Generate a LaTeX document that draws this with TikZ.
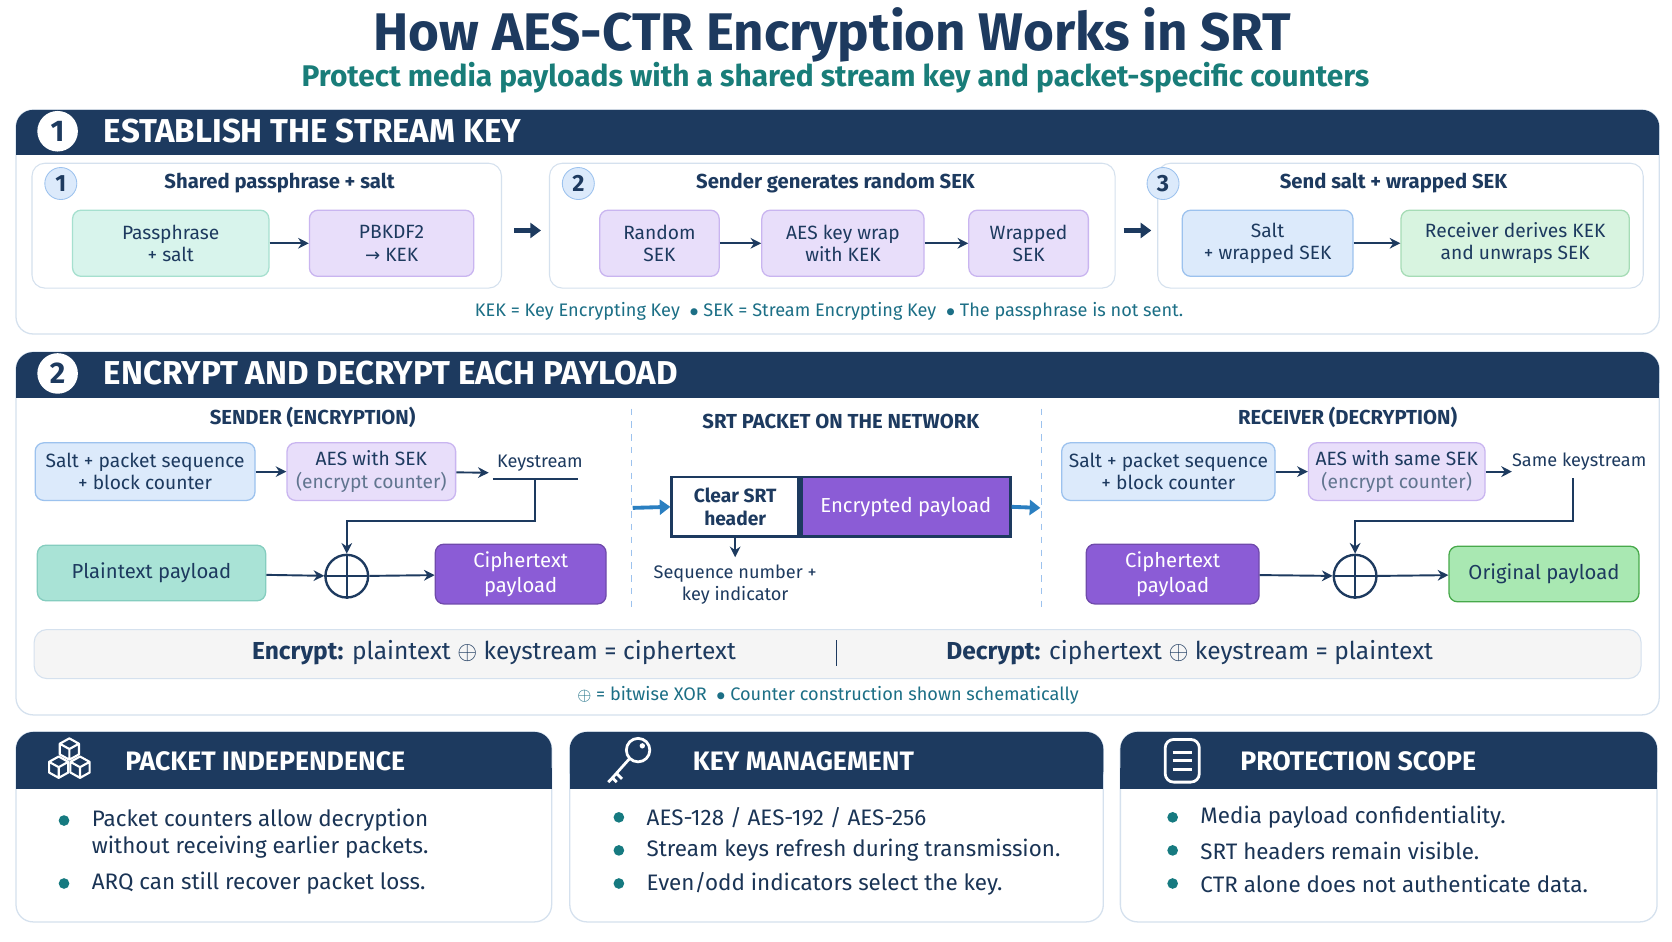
\documentclass[tikz,border=0pt]{standalone}
\usepackage{fontspec}
\setmainfont{Fira Sans}
\newfontfamily\sym{DejaVu Sans}
\usetikzlibrary{arrows.meta}
\definecolor{navy}{HTML}{1D3A5F}
\definecolor{tealtx}{HTML}{1C6F86}
\definecolor{lteal}{HTML}{D8F4EC}\definecolor{bteal}{HTML}{A6E0CF}
\definecolor{lpur}{HTML}{E8DEFA}\definecolor{bpur}{HTML}{C9B5F0}
\definecolor{lblue}{HTML}{DCEAFB}\definecolor{bblue}{HTML}{9CC2EE}
\definecolor{lgreen}{HTML}{D8F4E0}\definecolor{bgreen}{HTML}{A6DCB6}
\definecolor{spur}{HTML}{8B5CD6}\definecolor{steal}{HTML}{A9E3D6}
\definecolor{sgreen}{HTML}{A9E8B2}\definecolor{netblue}{HTML}{2A7FC1}
\definecolor{panelb}{HTML}{D5E1EE}\definecolor{dot}{HTML}{167A80}
\begin{document}
\begin{tikzpicture}[x=0.5pt,y=-0.5pt,
  panel/.style={draw=panelb,line width=0.6pt,fill=white,rounded corners=8pt},
  hdr/.style={fill=navy,rounded corners=8pt},
  htxt/.style={text=white,font=\bfseries\fontsize{15.5}{18}\selectfont,anchor=west,inner sep=0pt},
  bn/.style={draw,line width=0.6pt,rounded corners=4pt,align=center,text=navy,font=\fontsize{9}{10.5}\selectfont},
  sub/.style={draw=panelb,line width=0.5pt,rounded corners=6pt,fill=white},
  badge/.style={circle,fill=lblue,draw=bblue,line width=0.4pt,minimum size=15pt,inner sep=0pt,text=navy,font=\bfseries\fontsize{11}{12}\selectfont},
  wbadge/.style={circle,fill=white,minimum size=19pt,inner sep=0pt,text=navy,font=\bfseries\fontsize{14}{14}\selectfont},
  stitle/.style={text=navy,font=\bfseries\fontsize{9.5}{12}\selectfont},
  arr/.style={-{Stealth[length=5pt,width=5pt]},line width=0.9pt,draw=navy},
  barr/.style={-{Triangle[length=5pt,width=7pt]},line width=2.2pt,draw=navy},
  xor/.style={circle,draw=navy,line width=1.1pt,minimum size=20pt,inner sep=0pt},
  btxt/.style={anchor=west,text=navy!90!black,font=\fontsize{10.5}{12.5}\selectfont,align=left},
  ctxt/.style={text=navy,font=\fontsize{8.5}{10.5}\selectfont,align=center}]
\fill[white] (0,0) rectangle (1567,882);
\useasboundingbox (0,0) rectangle (1567,882);
% title
\node (title) at (780,33) {\textcolor{navy}{\bfseries\fontsize{24.8}{30}\selectfont How AES-CTR Encryption Works in SRT}};
\node (subt) at (783,73) {\textcolor{tealtx!90!green}{\bfseries\fontsize{14}{16}\selectfont Protect media payloads with a shared stream key and packet-specific counters}};
% ===== section 1
\draw[panel] (15,103) rectangle (1555,313);
\fill[hdr] (15,103) rectangle (1555,145);
\fill[navy] (15,130) rectangle (1555,145);
\node[wbadge] (c1) at (54,123) {1};
\node[htxt] (h1) at (97,123) {ESTABLISH THE STREAM KEY};
\draw[sub] (30,153) rectangle (470,270);
\draw[sub] (515,153) rectangle (1045,270);
\draw[sub] (1085,153) rectangle (1540,270);
\node[badge] (b1) at (57,172) {1};
\node[badge] (b2) at (542,172) {2};
\node[badge] (b3) at (1090,172) {3};
\node[stitle] (t1) at (262,172) {Shared passphrase + salt};
\node[stitle] (t2) at (783,172) {Sender generates random SEK};
\node[stitle] (t3) at (1306,172) {Send salt + wrapped SEK};
\node[bn,draw=bteal,fill=lteal,minimum width=92pt,minimum height=31pt] (pp) at (160,228) {Passphrase\\+ salt};
\node[bn,draw=bpur,fill=lpur,minimum width=77pt,minimum height=31pt] (kdf) at (367,228) {PBKDF2\\{\sym\fontsize{8.5}{10.5}\selectfont→} KEK};
\node[bn,draw=bpur,fill=lpur,minimum width=56pt,minimum height=31pt] (rs) at (618,228) {Random\\SEK};
\node[bn,draw=bpur,fill=lpur,minimum width=76pt,minimum height=31pt] (wr) at (790,228) {AES key wrap\\with KEK};
\node[bn,draw=bpur,fill=lpur,minimum width=56pt,minimum height=31pt] (ws) at (964,228) {Wrapped\\SEK};
\node[bn,draw=bblue,fill=lblue,minimum width=80pt,minimum height=31pt] (sw) at (1188,228) {Salt\\+ wrapped SEK};
\node[bn,draw=bgreen,fill=lgreen,minimum width=107pt,minimum height=31pt] (rd) at (1420,228) {Receiver derives KEK\\and unwraps SEK};
\draw[arr] (pp) -- (kdf);
\draw[arr] (rs) -- (wr);
\draw[arr] (wr) -- (ws);
\draw[arr] (sw) -- (rd);
\coordinate (a1s) at (482,216); \coordinate (a1e) at (507,216);
\coordinate (a2s) at (1053,216); \coordinate (a2e) at (1079,216);
\draw[barr] (a1s) -- (a1e);
\draw[barr] (a2s) -- (a2e);
\node[text=tealtx,font=\fontsize{8.5}{10}\selectfont] (fn1) at (777,292) {KEK = Key Encrypting Key \ $\bullet$\ SEK = Stream Encrypting Key \ $\bullet$\ The passphrase is not sent.};
% ===== section 2
\draw[panel] (15,330) rectangle (1555,670);
\fill[hdr] (15,330) rectangle (1555,373);
\fill[navy] (15,357) rectangle (1555,373);
\node[wbadge] (c2) at (54,350) {2};
\node[htxt] (h2) at (97,350) {ENCRYPT AND DECRYPT EACH PAYLOAD};
\node[stitle] (st1) at (293,391) {SENDER (ENCRYPTION)};
\node[stitle] (st2) at (788,395) {SRT PACKET ON THE NETWORK};
\node[stitle] (st3) at (1263,391) {RECEIVER (DECRYPTION)};
\draw[bblue,dashed,line width=0.6pt] (592,383) -- (592,570);
\draw[bblue,dashed,line width=0.6pt] (976,383) -- (976,570);
% sender
\node[bn,draw=bblue,fill=lblue,minimum width=103pt,minimum height=27pt] (sc) at (136,442) {Salt + packet sequence\\+ block counter};
\node[bn,draw=bpur,fill=lpur,minimum width=79pt,minimum height=27pt] (aes) at (348,442) {AES with SEK\\{\color{navy!70}(encrypt counter)}};
\node[text=navy,font=\fontsize{8.5}{11}\selectfont] (ks) at (506,434) {Keystream};
\coordinate (kse) at (458,443);
\draw[arr] (sc) -- (aes);
\draw[arr] (aes) -- (kse);
\draw[navy,line width=0.7pt] (462,449) -- (542,449);
\node[xor] (x1) at (325,540) {};
\draw[navy,line width=1.1pt] (x1.north) -- (x1.south) (x1.west) -- (x1.east);
\coordinate (ksd) at (501,449);
\draw[arr] (ksd) |- (325,488) -- (x1.north);
\node[bn,draw=bteal!80!teal,fill=steal,minimum width=107pt,minimum height=26pt,font=\fontsize{9.5}{11.5}\selectfont] (pt) at (142,537) {Plaintext payload};
\node[bn,draw=spur!80!black,fill=spur,text=white,minimum width=80pt,minimum height=28pt,font=\fontsize{9.5}{11.5}\selectfont] (ct) at (488,538) {Ciphertext\\payload};
\draw[arr] (pt) -- (x1);
\draw[arr] (x1) -- (ct);
% network
\node[draw=navy,line width=1.2pt,fill=white,minimum width=59.5pt,minimum height=28pt,inner sep=0pt,align=center,text=navy,font=\bfseries\fontsize{9}{10.5}\selectfont] (hd) at (689,475) {Clear SRT\\header};
\node[draw=navy,line width=1.2pt,fill=spur,minimum width=98pt,minimum height=28pt,inner sep=0pt,text=white,font=\fontsize{9.5}{11.5}\selectfont,anchor=west] (ep) at (hd.east) {Encrypted payload};
\coordinate (nin) at (593,476); \coordinate (nout) at (975,476);
\draw[-{Triangle[length=5pt,width=7pt]},line width=1.8pt,netblue] (nin) -- (hd.west);
\draw[-{Triangle[length=5pt,width=7pt]},line width=1.8pt,netblue] (ep.east) -- (nout);
\node[ctxt] (sn) at (689,548) {Sequence number +\\key indicator};
\draw[arr,line width=0.7pt] (hd.south) -- (sn.north);
% receiver
\node[bn,draw=bblue,fill=lblue,minimum width=98pt,minimum height=27pt] (rsc) at (1095,442) {Salt + packet sequence\\+ block counter};
\node[bn,draw=bpur,fill=lpur,minimum width=79pt,minimum height=27pt] (raes) at (1309,442) {AES with same SEK\\{\color{navy!70}(encrypt counter)}};
\node[text=navy,font=\fontsize{8.5}{11}\selectfont] (sks) at (1480,433) {Same keystream};
\coordinate (rke) at (1417,442);
\draw[arr] (rsc) -- (raes);
\draw[arr] (raes) -- (rke);
\node[xor] (x2) at (1270,540) {};
\draw[navy,line width=1.1pt] (x2.north) -- (x2.south) (x2.west) -- (x2.east);
\coordinate (rkd) at (1474,448);
\draw[arr] (rkd) |- (1270,488) -- (x2.north);
\node[bn,draw=spur!80!black,fill=spur,text=white,minimum width=81pt,minimum height=28pt,font=\fontsize{9.5}{11.5}\selectfont] (rct) at (1099,538) {Ciphertext\\payload};
\node[bn,draw=sgreen!60!green!70!black,fill=sgreen,minimum width=89pt,minimum height=26pt,font=\fontsize{9.5}{11.5}\selectfont] (op) at (1447,538) {Original payload};
\draw[arr] (rct) -- (x2);
\draw[arr] (x2) -- (op);
% formula bar
\draw[draw=panelb,fill=gray!8,rounded corners=6pt,line width=0.5pt] (32,590) rectangle (1538,636);
\node[text=navy,font=\fontsize{11.5}{13}\selectfont] (enc) at (463,612) {\textbf{Encrypt:} plaintext $\oplus$ keystream = ciphertext};
\node[text=navy,font=\fontsize{11.5}{13}\selectfont] (dec) at (1115,612) {\textbf{Decrypt:} ciphertext $\oplus$ keystream = plaintext};
\draw[navy,line width=0.6pt] (784,600) -- (784,624);
\node[text=tealtx,font=\fontsize{8.5}{10}\selectfont] (fn2) at (776,652) {$\oplus$ = bitwise XOR \ $\bullet$\ Counter construction shown schematically};
% ===== bottom cards
\foreach \xa/\xb in {15/517,534/1034,1050/1553}{
  \draw[panel] (\xa,686) rectangle (\xb,864);
  \fill[hdr] (\xa,686) rectangle (\xb,739);
  \fill[navy] (\xa,720) rectangle (\xb,739);
}
\node[htxt,font=\bfseries\fontsize{12.5}{14}\selectfont] (p1) at (117,713) {PACKET INDEPENDENCE};
\node[htxt,font=\bfseries\fontsize{12.5}{14}\selectfont] (p2) at (649,713) {KEY MANAGEMENT};
\node[htxt,font=\bfseries\fontsize{12.5}{14}\selectfont] (p3) at (1162,713) {PROTECTION SCOPE};
% cubes icon
\begin{scope}[shift={(65,713)},white,line width=1pt,line join=round]
 \foreach \dx/\dy in {0/-11,-10/6,10/6}{
  \draw[shift={(\dx,\dy)}] (0,-10) -- (9,-5) -- (9,5) -- (0,10) -- (-9,5) -- (-9,-5) -- cycle (-9,-5) -- (0,0) -- (9,-5) (0,0) -- (0,10);}
\end{scope}
% key icon
\begin{scope}[shift={(590,713)},white,line width=1.3pt]
 \draw (8,-10) circle (11);
 \fill (12,-14) circle (2.5);
 \draw (0,-2) -- (-17,17) -- (-20,20) (-12,12) -- (-7,17) (-16,16)--(-12,20);
\end{scope}
% document icon
\begin{scope}[shift={(1108,713)},white,line width=1.3pt]
 \draw[rounded corners=4pt] (-16,-20) rectangle (16,20);
 \draw (-9,-8) -- (9,-8) (-9,0) -- (9,0) (-9,8) -- (9,8);
\end{scope}
\foreach \x/\y/\t [count=\i] in {
 60/769/{Packet counters allow decryption},
 60/828/{ARQ can still recover packet loss.},
 580/766/{AES-128 / AES-192 / AES-256},
 580/797/{Stream keys refresh during transmission.},
 580/828/{Even/odd indicators select the key.},
 1099/766/{Media payload confidentiality.},
 1099/797/{SRT headers remain visible.},
 1099/828/{CTR alone does not authenticate data.}}{
 \fill[dot] (\x,\y) circle (5);
 \node[btxt] (bl\i) at (\x+19,\y) {\t};
}
\node[btxt] (bl9) at (79,794) {without receiving earlier packets.};
\end{tikzpicture}
\end{document}
